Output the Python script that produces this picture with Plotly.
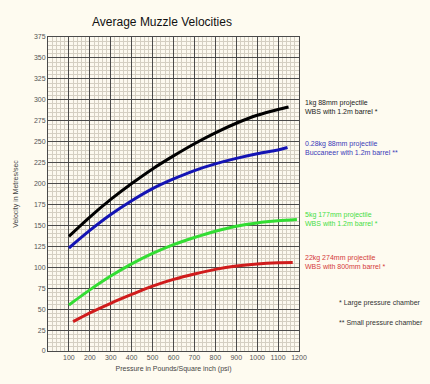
import plotly.graph_objects as go

# Data
black_x = [100, 200, 300, 400, 500, 600, 700, 800, 900, 1000, 1100, 1150]
black_y = [137, 160, 181, 200, 217.5, 233, 247.5, 260.5, 272, 281.5, 288.5, 291.5]

blue_x = [100, 200, 300, 400, 500, 600, 700, 800, 900, 1000, 1100, 1145]
blue_y = [123, 144, 163, 179.5, 194, 205.5, 215.5, 223.5, 230, 235.5, 240, 243]

green_x = [100, 200, 300, 400, 500, 600, 700, 800, 900, 1000, 1100, 1190]
green_y = [55, 73, 89.5, 104, 116.5, 127, 135.5, 143, 149, 153, 155.5, 157]

red_x = [120, 200, 300, 400, 500, 600, 700, 800, 900, 1000, 1100, 1170]
red_y = [35, 45.5, 57, 67.5, 77.5, 85.5, 92, 97.5, 101.5, 104, 105.3, 105.6]

x_ticks = [100, 200, 300, 400, 500, 600, 700, 800, 900, 1000, 1100, 1200]
y_ticks = list(range(0, 376, 25))

labels = [
    ("1kg 88mm projectile<br>WBS with 1.2m barrel *", 291, "#222222"),
    ("0.28kg 88mm projectile<br>Buccaneer with 1.2m barrel **", 242, "#3a3ab8"),
    ("5kg 177mm projectile<br>WBS with 1.2m barrel *", 158, "#44dd44"),
    ("22kg 274mm projectile<br>WBS with 800mm barrel *", 106, "#d43a3a"),
]
notes = ["* Large pressure chamber", "** Small pressure chamber"]

FONT = "Liberation Sans, Arial, sans-serif"
L, R, T, B = 48, 131, 37, 33
W, H = 430, 384
PW, PH = W - L - R, H - T - B

fig = go.Figure()
series = [
    (black_x, black_y, "#000000"),
    (blue_x, blue_y, "#1414b4"),
    (green_x, green_y, "#33dd33"),
    (red_x, red_y, "#d01c1c"),
]
for xs, ys, c in series:
    fig.add_trace(go.Scatter(x=xs, y=ys, mode="lines",
                             line=dict(color=c, width=3, shape="spline", smoothing=0.8),
                             showlegend=False, hoverinfo="skip"))

for text, yv, c in labels:
    fig.add_annotation(x=1.0, xref="paper", xshift=4, y=yv, yref="y",
                       text=text, showarrow=False, xanchor="left", yanchor="middle",
                       align="left", font=dict(family=FONT, size=7, color=c))

for i, t in enumerate(notes):
    fig.add_annotation(x=(337 - L) / PW, xref="paper",
                       y=(H - B - (303 + 20 * i)) / PH, yref="paper",
                       text=t, showarrow=False, xanchor="left", yanchor="middle",
                       font=dict(family=FONT, size=7, color="#333333"))

fig.update_layout(
    width=W, height=H,
    margin=dict(l=L, r=R, t=T, b=B, autoexpand=False),
    paper_bgcolor="#fefbf0",
    plot_bgcolor="#fcf9ef",
    title=dict(text="Average Muzzle Velocities", x=162 / W, xanchor="center",
               y=1 - 22 / H, yanchor="middle",
               font=dict(family=FONT, size=12, color="#111111")),
    font=dict(family=FONT),
)
fig.update_xaxes(
    range=[0, 1200], tickmode="array", tickvals=x_ticks, automargin=False,
    tickfont=dict(size=7, color="#555555"),
    showgrid=True, gridcolor="#4a4a4a", gridwidth=1,
    minor=dict(tickmode="linear", tick0=0, dtick=20, showgrid=True,
               gridcolor="#d4cfc2", gridwidth=1),
    showline=True, linecolor="#4a4a4a", linewidth=1, mirror=True,
    zeroline=False, ticks="", fixedrange=True,
    title=dict(text="Pressure in Pounds/Square inch (psi)", standoff=5,
               font=dict(size=7, color="#444444")),
)
fig.update_yaxes(
    range=[0, 375], tickmode="array", tickvals=y_ticks, automargin=False,
    tickfont=dict(size=7, color="#555555"),
    showgrid=True, gridcolor="#4a4a4a", gridwidth=1,
    minor=dict(tickmode="linear", tick0=0, dtick=5, showgrid=True,
               gridcolor="#d4cfc2", gridwidth=1),
    showline=True, linecolor="#4a4a4a", linewidth=1, mirror=True,
    zeroline=False, ticks="", fixedrange=True,
    title=dict(text="Velocity in Metres/sec", standoff=14,
               font=dict(size=7, color="#444444")),
)

fig.write_html(
    "out.html",
    config={"displayModeBar": False},
    post_script="document.body.style.margin='0';document.body.style.padding='0';"
                "document.body.style.background='#fefbf0';",
)
